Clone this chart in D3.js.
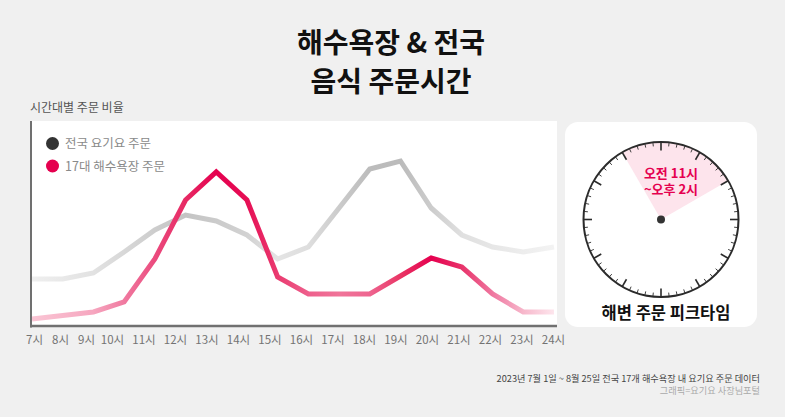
<!DOCTYPE html>
<html>
<head>
<meta charset="utf-8">
<script src="https://cdn.jsdelivr.net/npm/d3@7/dist/d3.min.js"></script>
<style>
  html, body { margin: 0; padding: 0; background: #f0f0f0; }
  svg { display: block; font-family: "Noto Sans CJK KR", "Noto Sans", sans-serif; }
</style>
</head>
<body>
<svg id="chart" width="785" height="417"></svg>
<script>
// ---- data ----
const hours = [7, 8, 9, 10, 11, 12, 13, 14, 15, 16, 17, 18, 19, 20, 21, 22, 23, 24];
const tickLabels = ["7시","8시","9시","10시","11시","12시","13시","14시","15시","16시","17시","18시","19시","20시","21시","22시","23시","24시"];
const nationalOrders = [4.7, 4.7, 5.3, 7.4, 9.6, 11.1, 10.5, 9.1, 6.7, 7.9, 11.8, 15.7, 16.5, 11.8, 9.1, 7.9, 7.4, 7.9];
const beachOrders    = [0.7, 1.05, 1.4, 2.4, 6.7, 12.6, 15.4, 12.6, 4.9, 3.2, 3.2, 3.2, 5.0, 6.8, 5.9, 3.2, 1.4, 1.4];
const seriesNames = ["전국 요기요 주문", "17대 해수욕장 주문"];
const peakHours = [11, 14];
const titleLines = ["해수욕장 & 전국", "음식 주문시간"];
const yLabel = "시간대별 주문 비율";
const peakLabel = ["오전 11시", "~오후 2시"];
const clockTitle = "해변 주문 피크타임";
const notes = ["2023년 7월 1일 ~ 8월 25일 전국 17개 해수욕장 내 요기요 주문 데이터", "그래픽=요기요 사장님포털"];

const svg = d3.select("#chart");
const RED = "#e5004f";

// title
svg.selectAll("text.title").data(titleLines).join("text")
  .attr("class", "title")
  .attr("x", 391).attr("y", (d, i) => 52.5 + i * 39)
  .attr("text-anchor", "middle")
  .attr("font-size", 28).attr("font-weight", 700).attr("fill", "#111")
  .text(d => d);

// y label
svg.append("text").attr("x", 30).attr("y", 112)
  .attr("font-size", 12).attr("fill", "#555").text(yLabel);

// chart panel
const panel = { left: 30, right: 557, top: 121, bottom: 326 };
svg.append("rect").attr("x", panel.left).attr("y", panel.top)
  .attr("width", panel.right - panel.left).attr("height", panel.bottom - panel.top)
  .attr("fill", "#fff");

// scales
const x = d3.scaleLinear().domain([7, 24]).range([32, 554]);
const xLabel = d3.scaleLinear().domain([7, 10, 24]).range([34, 112, 553]);
const y = d3.scaleLinear().domain([0, 20]).range([326, 126]);

// gradients
const defs = svg.append("defs");
function grad(id, stops) {
  const g = defs.append("linearGradient").attr("id", id)
    .attr("gradientUnits", "userSpaceOnUse")
    .attr("x1", x(7)).attr("x2", x(24)).attr("y1", 0).attr("y2", 0);
  stops.forEach(([h, c]) => g.append("stop")
    .attr("offset", (x(h) - x(7)) / (x(24) - x(7))).attr("stop-color", c));
}
grad("gGray", [[7, "#efefef"], [9, "#e2e2e2"], [11, "#cdcdcd"], [12, "#c4c4c4"], [14, "#d2d2d2"],
  [15, "#e4e4e4"], [16, "#dedede"], [17, "#cbcbcb"], [18, "#bcbcbc"], [19, "#bbbbbb"],
  [20, "#cccccc"], [21, "#e0e0e0"], [23, "#ededed"], [24, "#f3f3f3"]]);
grad("gRed", [[7, "#fac6d5"], [9, "#f6a6bf"], [10, "#f07aa0"], [11, "#eb4b7e"], [12, "#e72a64"],
  [13, "#e5004f"], [14, "#e60f55"], [15, "#ea3b70"], [16, "#ee5f8c"], [17, "#f07499"],
  [18, "#ee6590"], [19, "#e93565"], [20, "#e5004f"], [21, "#e8336a"], [22, "#ef77a0"],
  [23, "#f7b7cb"], [24, "#fde6ed"]]);

const line = d3.line().x((d, i) => x(hours[i])).y(d => y(d));

svg.append("path").datum(nationalOrders)
  .attr("d", line).attr("fill", "none")
  .attr("stroke", "url(#gGray)").attr("stroke-width", 5).attr("stroke-linejoin", "miter");
svg.append("path").datum(beachOrders)
  .attr("d", line).attr("fill", "none")
  .attr("stroke", "url(#gRed)").attr("stroke-width", 5).attr("stroke-linejoin", "miter");

// frame lines
svg.append("line").attr("x1", panel.left + 1).attr("x2", panel.left + 1)
  .attr("y1", panel.top).attr("y2", panel.bottom + 1.5)
  .attr("stroke", "#707070").attr("stroke-width", 2);
svg.append("line").attr("x1", panel.left).attr("x2", panel.right)
  .attr("y1", panel.bottom).attr("y2", panel.bottom)
  .attr("stroke", "#707070").attr("stroke-width", 2.5);

// x axis labels
const ax = svg.append("g").attr("transform", `translate(0,${panel.bottom})`)
  .call(d3.axisBottom(xLabel).tickValues(hours).tickSize(0).tickPadding(10)
    .tickFormat((d, i) => tickLabels[i]));
ax.select(".domain").remove();
ax.selectAll("text").attr("font-size", 11.5).attr("fill", "#737373")
  .attr("font-family", "\"Noto Sans CJK KR\", sans-serif");

// legend
const legColors = ["#333333", RED];
const leg = svg.selectAll("g.leg").data(seriesNames).join("g")
  .attr("class", "leg").attr("transform", (d, i) => `translate(52.5,${143.5 + i * 22.5})`);
leg.append("circle").attr("r", 6.5).attr("fill", (d, i) => legColors[i]);
leg.append("text").attr("x", 12.5).attr("y", 4.5)
  .attr("font-size", 12.5).attr("fill", "#8a8a8a").text(d => d);

// clock panel
svg.append("rect").attr("x", 565).attr("y", 122).attr("width", 192).attr("height", 205)
  .attr("rx", 13).attr("fill", "#fff");

const cx = 661, cy = 219.5, R = 77.5;
const clock = svg.append("g").attr("transform", `translate(${cx},${cy})`);
const ang = h => (h % 12) / 12 * 2 * Math.PI;
clock.append("path")
  .attr("d", d3.arc().innerRadius(0).outerRadius(R)
    .startAngle(ang(peakHours[0]) - 2 * Math.PI).endAngle(ang(peakHours[1]))())
  .attr("fill", "#fde4ec");
clock.append("circle").attr("r", R).attr("fill", "none")
  .attr("stroke", "#2b2b2b").attr("stroke-width", 2);
const minutes = d3.range(60);
clock.selectAll("line.tick").data(minutes).join("line")
  .attr("class", "tick")
  .attr("x1", d => Math.sin(d / 60 * 2 * Math.PI) * R)
  .attr("y1", d => -Math.cos(d / 60 * 2 * Math.PI) * R)
  .attr("x2", d => Math.sin(d / 60 * 2 * Math.PI) * (R - (d % 5 === 0 ? 8.5 : 4)))
  .attr("y2", d => -Math.cos(d / 60 * 2 * Math.PI) * (R - (d % 5 === 0 ? 8.5 : 4)))
  .attr("stroke", "#2b2b2b").attr("stroke-width", d => d % 5 === 0 ? 1.6 : 0.9);
clock.append("circle").attr("r", 4).attr("fill", "#333");

// peak label as one text block (two lines)
const peakText = svg.append("text")
  .attr("text-anchor", "middle").attr("font-size", 13).attr("font-weight", 700)
  .attr("fill", RED);
peakText.selectAll("tspan").data(peakLabel).join("tspan")
  .attr("x", 671).attr("y", (d, i) => 178 + i * 16).text(d => d);

svg.append("text").attr("x", 666).attr("y", 319)
  .attr("text-anchor", "middle").attr("font-size", 16.5).attr("font-weight", 700)
  .attr("fill", "#111").text(clockTitle);

// notes as one text block (two lines)
const noteText = svg.append("text").attr("text-anchor", "end").attr("font-size", 9.2);
noteText.selectAll("tspan").data(notes).join("tspan")
  .attr("x", 760).attr("y", (d, i) => 381.5 + i * 12)
  .attr("fill", (d, i) => i === 0 ? "#444" : "#aaa").text(d => d);
</script>
</body>
</html>
